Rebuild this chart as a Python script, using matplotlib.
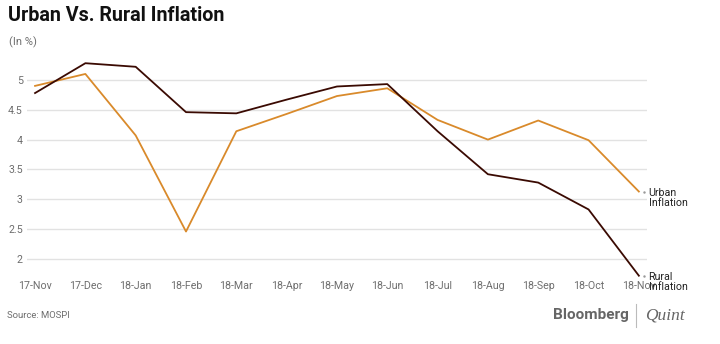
import matplotlib
matplotlib.use("Agg")
import matplotlib.pyplot as plt

# CPI inflation (%), rural vs urban, Nov 2017 - Nov 2018
months = ["17-Nov", "17-Dec", "18-Jan", "18-Feb", "18-Mar", "18-Apr", "18-May",
          "18-Jun", "18-Jul", "18-Aug", "18-Sep", "18-Oct", "18-Nov"]
rural = [4.78, 5.28, 5.22, 4.46, 4.44, 4.67, 4.89, 4.93, 4.14, 3.42, 3.28, 2.83, 1.72]
urban = [4.90, 5.10, 4.07, 2.46, 4.14, 4.43, 4.73, 4.86, 4.33, 4.00, 4.32, 3.99, 3.13]
yticks = [2, 2.5, 3, 3.5, 4, 4.5, 5]
ytick_labels = ["2", "2.5", "3", "3.5", "4", "4.5", "5"]

RURAL_C = "#3a0a02"
URBAN_C = "#d98a2b"
GREY = "#6e6e6e"

plt.rcParams["font.family"] = ["Roboto", "DejaVu Sans"]

fig = plt.figure(figsize=(7.2, 3.44), dpi=100)
ax = fig.add_axes([0.0375, 0.1864, 0.861, 0.642])

x = list(range(len(months)))
ax.plot(x, urban, color=URBAN_C, lw=1.3, clip_on=False, zorder=3)
ax.plot(x, rural, color=RURAL_C, lw=1.3, clip_on=False, zorder=4)

ax.set_xlim(-0.16, 12.16)
ax.set_ylim(1.65, 5.35)
ax.set_yticks(yticks)
ax.set_yticklabels(ytick_labels)
ax.set_xticks(x)
ax.set_xticklabels(months)
ax.tick_params(axis="both", length=0, labelsize=7.7, labelcolor=GREY)
ax.tick_params(axis="y", pad=3)
ax.tick_params(axis="x", pad=0.5)
ax.grid(axis="y", color="#e2e2e2", lw=1.0)
for s in ax.spines.values():
    s.set_visible(False)

# series labels at the line ends
for vals, name in [(urban, "Urban\nInflation"), (rural, "Rural\nInflation")]:
    ax.plot([12.1], [vals[-1]], marker=".", ms=1.5, color="#999999", clip_on=False)
    ax.annotate(name, (12, vals[-1]), xytext=(7, -4.5), textcoords="offset points",
                fontsize=7.7, color="#222222", va="center", ha="left",
                linespacing=1.0, annotation_clip=False)

fig.text(0.011, 0.955, "Urban Vs. Rural Inflation", fontsize=14.2,
         fontweight="bold", color="#111111", va="center")
fig.text(0.013, 0.878, "(In %)", fontsize=8, color=GREY, va="center")
fig.text(0.010, 0.083, "Source: MOSPI", fontsize=6.8, color=GREY, va="center")
fig.text(0.873, 0.083, "Bloomberg", fontsize=11, fontweight="bold",
         color="#666666", va="center", ha="right")
fig.add_artist(plt.Line2D([0.884, 0.884], [0.05, 0.115], color="#bbbbbb", lw=0.8))
fig.text(0.896, 0.083, "Quint", fontsize=12.5, style="italic",
         family="Liberation Serif", color="#666666", va="center", ha="left")

fig.savefig("out.png", dpi=100, facecolor="white")
